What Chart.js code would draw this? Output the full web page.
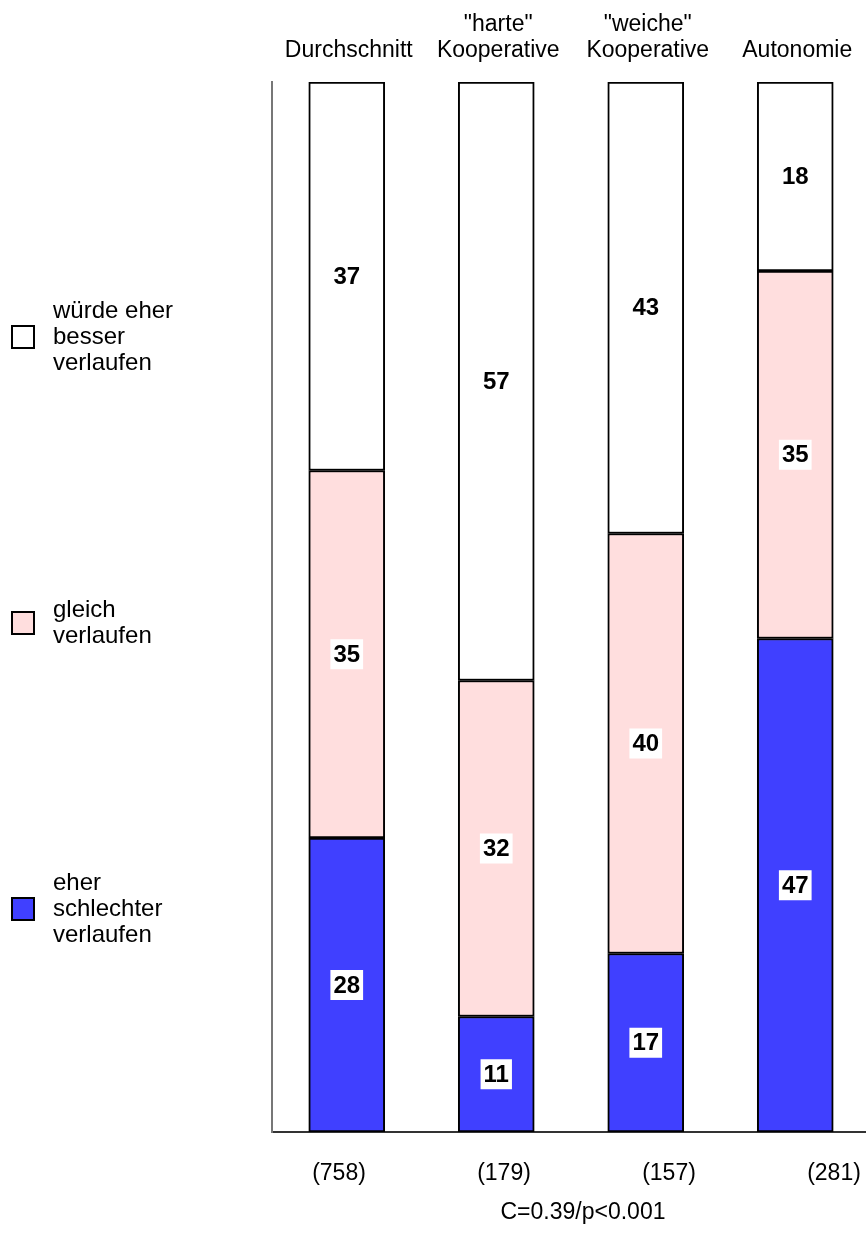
<!DOCTYPE html>
<html>
<head>
<meta charset="utf-8">
<script src="https://cdn.jsdelivr.net/npm/chart.js@4/dist/chart.umd.min.js"></script>
<style>
  html, body { margin: 0; padding: 0; background: #fff; overflow: hidden; }
  #wrap { width: 866px; height: 1234px; overflow: hidden; }
</style>
</head>
<body>
<div id="wrap"><canvas id="stackChart" width="870" height="1234"></canvas></div>
<script>
// Daten
const categories = [
    ['', 'Durchschnitt'],
    ['"harte"', 'Kooperative'],
    ['"weiche"', 'Kooperative'],
    ['', 'Autonomie']
];
const counts = ['(758)', '(179)', '(157)', '(281)'];
const schlechter = [28, 11, 17, 47];
const gleich = [35, 32, 40, 35];
const besser = [37, 57, 43, 18];
const footnote = 'C=0.39/p<0.001';

const legendItems = [
    { lines: ['würde eher', 'besser', 'verlaufen'], color: '#ffffff', y: 337 },
    { lines: ['gleich', 'verlaufen'], color: '#ffdede', y: 623 },
    { lines: ['eher', 'schlechter', 'verlaufen'], color: '#4040ff', y: 909 }
];

const FONT = '"Liberation Sans", Arial, sans-serif';

// Beschriftungen, Werte und Legende zeichnen
const textPlugin = {
    id: 'textPlugin',
    afterDatasetsDraw(chart) {
        const ctx = chart.ctx;
        const x = chart.scales.x;
        const area = chart.chartArea;
        ctx.save();

        // Werte in weissen Kaestchen
        ctx.font = 'bold 24px ' + FONT;
        ctx.textAlign = 'center';
        ctx.textBaseline = 'middle';
        chart.data.datasets.forEach((ds, di) => {
            const meta = chart.getDatasetMeta(di);
            meta.data.forEach((bar, i) => {
                const cy = (bar.y + bar.base) / 2;
                const txt = String(ds.data[i]);
                const w = ctx.measureText(txt).width + 6;
                ctx.fillStyle = '#fff';
                ctx.fillRect(bar.x - w / 2, cy - 15, w, 30);
                ctx.fillStyle = '#000';
                ctx.fillText(txt, bar.x, cy + 1);
            });
        });

        // Kategorien oben
        ctx.font = '23px ' + FONT;
        ctx.fillStyle = '#000';
        categories.forEach((lines, i) => {
            const px = x.getPixelForValue(i) + 2;
            ctx.fillText(lines[0], px, 25);
            ctx.fillText(lines[1], px, 51);
        });

        // Fallzahlen unten (etwas breiter verteilt als die Balken)
        counts.forEach((c, i) => {
            ctx.fillText(c, area.left + 67 + i * 165, 1174);
        });
        ctx.fillText(footnote, area.left + 311, 1213);

        // Legende links
        ctx.font = '24px ' + FONT;
        ctx.textAlign = 'left';
        legendItems.forEach(item => {
            ctx.fillStyle = item.color;
            ctx.fillRect(12, item.y - 11, 22, 22);
            ctx.lineWidth = 2;
            ctx.strokeStyle = '#000';
            ctx.strokeRect(12, item.y - 11, 22, 22);
            ctx.fillStyle = '#000';
            const start = item.y - (item.lines.length - 1) * 13;
            item.lines.forEach((l, k) => ctx.fillText(l, 53, start + k * 26));
        });
        ctx.restore();
    }
};

const ctx = document.getElementById('stackChart').getContext('2d');

const stackChart = new Chart(ctx, {
    type: 'bar',
    data: {
        labels: counts,
        datasets: [
            { label: 'eher schlechter verlaufen', data: schlechter, backgroundColor: '#4040ff' },
            { label: 'gleich verlaufen', data: gleich, backgroundColor: '#ffdede' },
            { label: 'würde eher besser verlaufen', data: besser, backgroundColor: '#ffffff' }
        ].map(d => Object.assign(d, {
            borderColor: '#000',
            borderWidth: 2,
            borderSkipped: false,
            barThickness: 76
        }))
    },
    options: {
        responsive: false,
        animation: false,
        layout: { padding: { left: 264, top: 82, right: 0, bottom: 94 } },
        scales: {
            x: {
                stacked: true,
                grid: { display: false },
                ticks: { display: false },
                border: { display: true, color: '#333', width: 2 }
            },
            y: {
                stacked: true,
                min: 0,
                max: 100,
                grid: { display: false },
                ticks: { display: false },
                border: { display: true, color: '#777', width: 2 }
            }
        },
        plugins: {
            legend: { display: false },
            tooltip: { enabled: false }
        }
    },
    plugins: [textPlugin]
});
</script>
</body>
</html>
